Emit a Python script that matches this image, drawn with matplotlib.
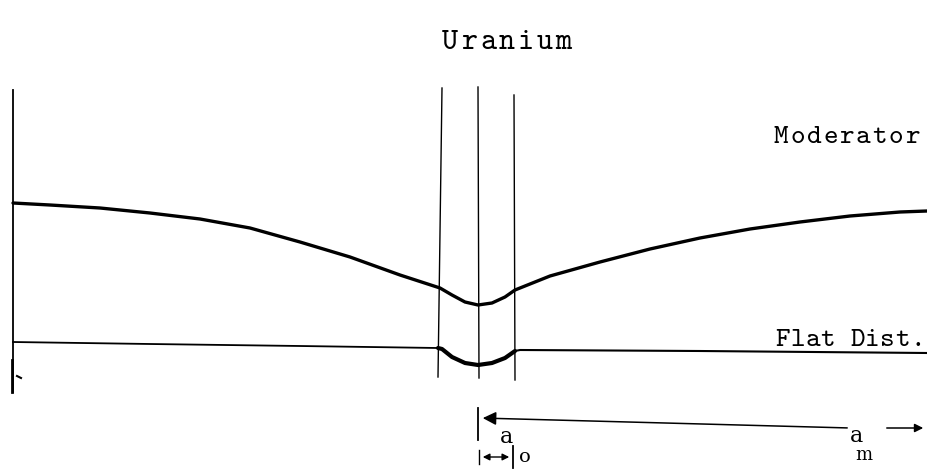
import numpy as np
import matplotlib
matplotlib.use("Agg")
import matplotlib.pyplot as plt
from matplotlib.patches import FancyArrowPatch

# Flux profile across one lattice cell (horizontal position, depth below top edge)
mod_x = [13, 50, 100, 150, 200, 250, 300, 350, 400, 440, 452, 465, 478, 492, 505, 515,
         550, 600, 650, 700, 750, 800, 850, 900, 927]
mod_y = [203, 205, 208, 213, 219, 228, 242, 257, 275, 288, 295, 302, 305, 303, 297, 290,
         276, 262, 249, 238, 229, 222, 216, 212, 211]

# Flattened distribution
flat_x = [13, 150, 300, 438, 442, 452, 465, 478, 492, 505, 515, 520, 700, 927]
flat_y = [342, 344, 346, 348, 349, 357, 363, 365, 363, 358, 351, 350, 351, 353]

# Uranium rod boundaries and axis (top point, bottom point)
rod_left = [(442, 88), (438, 377)]
rod_axis = [(478, 87), (479, 378)]
rod_right = [(514, 95), (515, 380)]

# label text: (left edge, baseline, character pitch, size)
labels = {"Uranium": (441, 49, 18.8, 22), "Moderator": (773, 143, 16.4, 20),
          "Flat Dist.": (775, 346, 15.0, 20)}

fig = plt.figure(figsize=(9.27, 4.69), dpi=100)
ax = fig.add_axes([0, 0, 1, 1])
ax.set_xlim(0, 927)
ax.set_ylim(469, 0)
ax.axis("off")

ink = "#000000"
mono = "cmtt10"


def typewrite(text, x0, y0, pitch, size):
    """Fixed-pitch text, one character per typewriter cell."""
    for i, ch in enumerate(text):
        ax.text(x0 + (i + 0.5) * pitch, y0, ch, family=mono, fontsize=size,
                ha="center", va="baseline", color=ink)


# left boundary of the cell
ax.plot([13, 13], [90, 392], color=ink, lw=1.3)
ax.plot([12, 12], [360, 392], color=ink, lw=2.0)
ax.plot([17, 21], [376, 378], color=ink, lw=1.5)

# rod boundaries
for (x0, y0), (x1, y1) in (rod_left, rod_axis, rod_right):
    ax.plot([x0, x1], [y0, y1], color=ink, lw=1.0)

# flux curves
ax.plot(mod_x, mod_y, color=ink, lw=2.4, solid_capstyle="round", solid_joinstyle="round")
ax.plot(flat_x[:4], flat_y[:4], color=ink, lw=1.3)
ax.plot(flat_x[3:11], flat_y[3:11], color=ink, lw=3.0, solid_capstyle="round",
        solid_joinstyle="round")
ax.plot(flat_x[10:], flat_y[10:], color=ink, lw=1.5)

# text labels
for txt, (x, y, p, fs) in labels.items():
    typewrite(txt, x, y, p, fs)

# a_m dimension
ax.plot([478, 478], [408, 440], color=ink, lw=1.3)
ax.add_patch(FancyArrowPatch((850, 428), (480, 418), arrowstyle="-|>,head_length=8,head_width=4",
                             color=ink, lw=1.1, mutation_scale=1))
ax.add_patch(FancyArrowPatch((884, 428), (926, 428), arrowstyle="-|>,head_length=5,head_width=2.5",
                             color=ink, lw=1.1, mutation_scale=1))
ax.text(857, 436, "a", family="DejaVu Serif", fontsize=16, ha="center", va="center", color=ink)
ax.text(864, 455, "m", family="DejaVu Serif", fontsize=13, ha="center", va="center", color=ink)

# a_o dimension
ax.plot([479, 479], [450, 464], color=ink, lw=1.0)
ax.plot([513, 513], [446, 468], color=ink, lw=1.3)
ax.add_patch(FancyArrowPatch((480, 457), (512, 457), arrowstyle="<|-|>,head_length=4,head_width=2",
                             color=ink, lw=1.0, mutation_scale=1))
ax.text(507, 437, "a", family="DejaVu Serif", fontsize=16, ha="center", va="center", color=ink)
ax.text(525, 457, "o", family="DejaVu Serif", fontsize=14, ha="center", va="center", color=ink)

fig.savefig("out.png", dpi=100, facecolor="white")
